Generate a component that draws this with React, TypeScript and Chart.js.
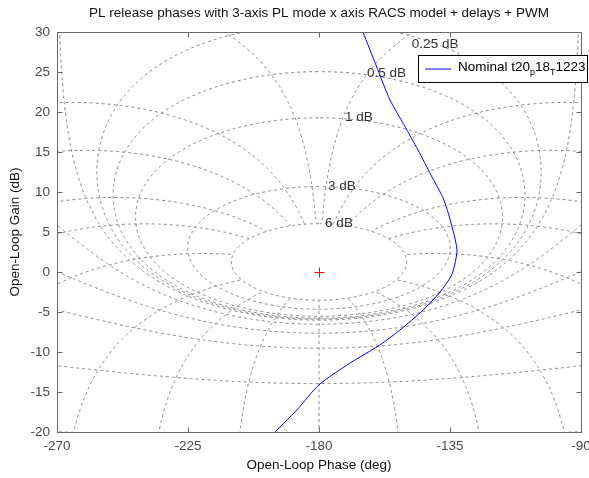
import React, { useEffect, useRef } from "react";
import { Chart, registerables } from "chart.js";

Chart.register(...registerables);

// ---- data ----
const TITLE = "PL release phases with 3-axis PL mode x axis RACS model + delays + PWM";
const X_LABEL = "Open-Loop Phase (deg)";
const Y_LABEL = "Open-Loop Gain (dB)";
const X_MIN = -270;
const X_MAX = -90;
const X_STEP = 45;
const Y_MIN = -20;
const Y_MAX = 30;
const Y_STEP = 5;

// Nominal open-loop response (phase deg, gain dB)
const NOMINAL_PHASE = [-164.9, -160.3, -155.6, -150.8, -146.0, -141.5, -137.1, -134.0, -132.6, -133.4, -134.6, -138.4, -144.2, -152.2, -159.0, -169.4, -180.0, -187.6, -195.1];
const NOMINAL_GAIN = [30.0, 25.75, 21.5, 18.4, 15.25, 12.1, 9.0, 5.25, 2.75, 0.9, -0.5, -2.5, -4.75, -7.25, -9.1, -11.4, -14.1, -17.25, -20.0];
const LEGEND_MAIN = "Nominal t20";
const LEGEND_SUB1 = "p";
const LEGEND_MID = "18";
const LEGEND_SUB2 = "T";
const LEGEND_END = "1223";

// Nichols grid levels (closed-loop gain dB, closed-loop phase deg)
const GRID_GAINS_DB = [6, 3, 1, 0.5, 0.25, 0, -1, -3, -6, -12, -20, -40];
const GRID_PHASES_DEG = [-1, -5, -10, -20, -30, -50, -90, -120, -150, -180, -210, -240, -270, -310, -330, -340, -350, -355, -359];
// grid labels
const LABEL_TEXT = ["0.25 dB", "0.5 dB", "1 dB", "3 dB", "6 dB"];
const LABEL_PHASE = [-148.1, -163.5, -171.1, -176.9, -177.9];
const LABEL_GAIN = [28.5, 24.8, 19.3, 10.7, 6.1];
const CRITICAL_POINT = [-180, 0];

// ---- styles ----
const FONT = "'Liberation Sans', Arial, sans-serif";
const BIG = 13.5;
const GRID_COLOR = "#808080";
const AXIS_COLOR = "#6a6a6a";
const TICK_TEXT = "#4a4a4a";

function unwrapTo(prev: number, raw: number) {
  let v = raw;
  while (v - prev > 180) v -= 360;
  while (v - prev < -180) v += 360;
  return v;
}

function lOfT(tr: number, ti: number) {
  const dr = 1 - tr;
  const di = -ti;
  const den = dr * dr + di * di;
  const lr = (tr * dr + ti * di) / den;
  const li = (ti * dr - tr * di) / den;
  return [lr, li];
}

function magContour(gdb: number): number[][] {
  const m = Math.pow(10, gdb / 20);
  const N = 20000;
  const pts: number[][] = [];
  let prev = NaN;
  let midIdx = 0;
  for (let k = 1; k < N; k++) {
    const th = -2 * Math.PI + (2 * Math.PI * k) / N;
    const [lr, li] = lOfT(m * Math.cos(th), m * Math.sin(th));
    const raw = (Math.atan2(li, lr) * 180) / Math.PI;
    const ph = isNaN(prev) ? raw : unwrapTo(prev, raw);
    prev = ph;
    if (k === N / 2) midIdx = pts.length;
    pts.push([ph, 20 * Math.log10(Math.hypot(lr, li))]);
  }
  const shift = Math.round((-180 - pts[midIdx][0]) / 360) * 360;
  return pts.map(([p, g]) => [p + shift, g]);
}

function phaseContour(thDeg: number, tMax: number): number[][] {
  const th = (thDeg * Math.PI) / 180;
  const N = 40000;
  const s0 = -6;
  const s1 = Math.log10(tMax);
  const pts: number[][] = [];
  let prev = thDeg;
  for (let k = 0; k <= N; k++) {
    const t = Math.pow(10, s0 + ((s1 - s0) * k) / N);
    const [lr, li] = lOfT(t * Math.cos(th), t * Math.sin(th));
    const raw = (Math.atan2(li, lr) * 180) / Math.PI;
    const ph = unwrapTo(prev, raw);
    prev = ph;
    pts.push([ph, 20 * Math.log10(Math.hypot(lr, li))]);
  }
  return pts;
}

const T_MAX = Math.pow(10, Math.max(...GRID_GAINS_DB) / 20);
const CONTOURS: number[][][] = [
  ...GRID_GAINS_DB.map((g) => magContour(g)),
  ...GRID_PHASES_DEG.map((p) => phaseContour(p, T_MAX)),
];

const nicholsPlugin = {
  id: "nichols",
  beforeDatasetsDraw(chart: any) {
    const { ctx, chartArea: a } = chart;
    const xs = chart.scales.x;
    const ys = chart.scales.y;
    ctx.save();
    ctx.beginPath();
    ctx.rect(a.left, a.top, a.right - a.left, a.bottom - a.top);
    ctx.clip();
    ctx.strokeStyle = GRID_COLOR;
    ctx.lineWidth = 1;
    ctx.setLineDash([3, 3]);
    for (const path of CONTOURS) {
      ctx.beginPath();
      let lx = NaN;
      let ly = NaN;
      let started = false;
      for (const [p, g] of path) {
        const px = xs.getPixelForValue(p);
        const py = ys.getPixelForValue(Math.max(-300, Math.min(300, g)));
        if (!isFinite(px) || !isFinite(py)) continue;
        if (!started) {
          ctx.moveTo(px, py);
          started = true;
          lx = px;
          ly = py;
          continue;
        }
        if (Math.abs(px - lx) + Math.abs(py - ly) < 1) continue;
        ctx.lineTo(px, py);
        lx = px;
        ly = py;
      }
      ctx.stroke();
    }
    ctx.setLineDash([]);
    // labels
    ctx.fillStyle = "#333333";
    ctx.font = `${BIG}px ${FONT}`;
    ctx.textAlign = "left";
    ctx.textBaseline = "middle";
    LABEL_TEXT.forEach((txt, i) => {
      ctx.fillText(txt, xs.getPixelForValue(LABEL_PHASE[i]), ys.getPixelForValue(LABEL_GAIN[i]));
    });
    // critical point
    const cx = Math.round(xs.getPixelForValue(CRITICAL_POINT[0])) + 0.5;
    const cy = Math.round(ys.getPixelForValue(CRITICAL_POINT[1])) + 0.5;
    ctx.strokeStyle = "#ff0000";
    ctx.beginPath();
    ctx.moveTo(cx - 5, cy);
    ctx.lineTo(cx + 5, cy);
    ctx.moveTo(cx, cy - 5);
    ctx.lineTo(cx, cy + 5);
    ctx.stroke();
    ctx.restore();
  },
  afterDraw(chart: any) {
    const { ctx, chartArea: a } = chart;
    const xs = chart.scales.x;
    const ys = chart.scales.y;
    ctx.save();
    // box
    const L = Math.round(a.left) + 0.5;
    const R = Math.round(a.right) + 0.5;
    const T = Math.round(a.top) + 0.5;
    const B = Math.round(a.bottom) + 0.5;
    ctx.strokeStyle = AXIS_COLOR;
    ctx.lineWidth = 1;
    ctx.strokeRect(L, T, R - L, B - T);
    ctx.beginPath();
    for (let v = X_MIN; v <= X_MAX; v += X_STEP) {
      const px = Math.round(xs.getPixelForValue(v)) + 0.5;
      ctx.moveTo(px, B);
      ctx.lineTo(px, B - 5);
      ctx.moveTo(px, T);
      ctx.lineTo(px, T + 5);
    }
    for (let v = Y_MIN; v <= Y_MAX; v += Y_STEP) {
      const py = Math.round(ys.getPixelForValue(v)) + 0.5;
      ctx.moveTo(L, py);
      ctx.lineTo(L + 5, py);
      ctx.moveTo(R, py);
      ctx.lineTo(R - 5, py);
    }
    ctx.stroke();
    // titles
    ctx.fillStyle = "#111111";
    ctx.font = `${BIG}px ${FONT}`;
    ctx.textAlign = "center";
    ctx.textBaseline = "middle";
    ctx.fillText(TITLE, (a.left + a.right) / 2, 13);
    ctx.fillText(X_LABEL, (a.left + a.right) / 2, 465);
    ctx.save();
    ctx.translate(15, (a.top + a.bottom) / 2);
    ctx.rotate(-Math.PI / 2);
    ctx.fillText(Y_LABEL, 0, 0);
    ctx.restore();
    // legend
    ctx.fillStyle = "#ffffff";
    ctx.fillRect(418, 55, 170, 28);
    ctx.strokeStyle = "#000000";
    ctx.strokeRect(418.5, 55.5, 169, 27);
    ctx.strokeStyle = "#0000ff";
    ctx.beginPath();
    ctx.moveTo(425, 69);
    ctx.lineTo(451, 69);
    ctx.stroke();
    ctx.fillStyle = "#000000";
    ctx.textAlign = "left";
    ctx.font = `${BIG}px ${FONT}`;
    let tx = 458;
    const ty = 67;
    ctx.fillText(LEGEND_MAIN, tx, ty);
    tx += ctx.measureText(LEGEND_MAIN).width;
    ctx.font = `9px ${FONT}`;
    ctx.fillText(LEGEND_SUB1, tx, ty + 6);
    tx += ctx.measureText(LEGEND_SUB1).width;
    ctx.font = `${BIG}px ${FONT}`;
    ctx.fillText(LEGEND_MID, tx, ty);
    tx += ctx.measureText(LEGEND_MID).width;
    ctx.font = `9px ${FONT}`;
    ctx.fillText(LEGEND_SUB2, tx, ty + 6);
    tx += ctx.measureText(LEGEND_SUB2).width;
    ctx.font = `${BIG}px ${FONT}`;
    ctx.fillText(LEGEND_END, tx, ty);
    ctx.restore();
  },
};

export default function App() {
  const ref = useRef<HTMLCanvasElement | null>(null);
  useEffect(() => {
    if (!ref.current) return;
    const chart = new Chart(ref.current, {
      type: "scatter",
      data: {
        datasets: [
          {
            label: LEGEND_MAIN + LEGEND_SUB1 + LEGEND_MID + LEGEND_SUB2 + LEGEND_END,
            data: NOMINAL_PHASE.map((p, i) => ({ x: p, y: NOMINAL_GAIN[i] })),
            showLine: true,
            borderColor: "#0000ff",
            borderWidth: 1,
            pointRadius: 0,
            tension: 0.25,
            fill: false,
          },
        ],
      },
      options: {
        animation: false,
        responsive: false,
        layout: { padding: { top: 32, right: 8, left: 0, bottom: 0 } },
        plugins: {
          legend: { display: false },
          title: { display: false },
          tooltip: { enabled: false },
        },
        scales: {
          x: {
            type: "linear",
            min: X_MIN,
            max: X_MAX,
            ticks: { stepSize: X_STEP, color: TICK_TEXT, font: { family: FONT, size: BIG }, padding: 6, maxRotation: 0 },
            grid: { display: false, drawTicks: false },
            border: { display: false },
            afterFit: (s: any) => {
              s.height = 46;
              s.paddingLeft = 0;
              s.paddingRight = 0;
            },
          },
          y: {
            type: "linear",
            min: Y_MIN,
            max: Y_MAX,
            ticks: { stepSize: Y_STEP, color: TICK_TEXT, font: { family: FONT, size: BIG }, padding: 7 },
            grid: { display: false, drawTicks: false },
            border: { display: false },
            afterFit: (s: any) => {
              s.width = 57;
              s.paddingTop = 0;
              s.paddingBottom = 0;
            },
          },
        },
      },
      plugins: [nicholsPlugin],
    } as any);
    return () => chart.destroy();
  }, []);
  return (
    <div style={{ position: "absolute", left: 0, top: 0, width: 589, height: 478, background: "#fff" }}>
      <canvas ref={ref} width={589} height={478} style={{ display: "block" }} />
    </div>
  );
}
